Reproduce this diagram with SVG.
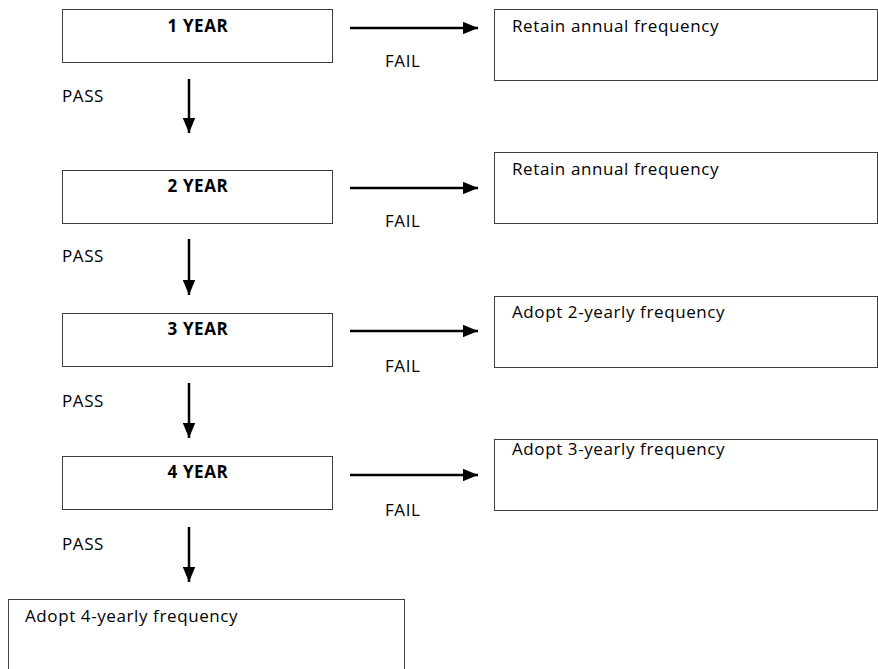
<svg xmlns="http://www.w3.org/2000/svg" width="878" height="669" viewBox="0 0 878 669">
<defs>
<marker id="ah" markerWidth="6" markerHeight="5" refX="6" refY="2.5" orient="auto" markerUnits="strokeWidth">
<path d="M0,0 L6,2.5 L0,5 Z" fill="#000"/>
</marker>
<style>
.box{fill:#fff;stroke:#404040;stroke-width:1}
.t{font-family:"Open Sans","Liberation Sans",Arial,sans-serif;font-size:17px;letter-spacing:0.6px;fill:#000}
.b{font-weight:bold;text-anchor:middle}
.c{stroke:#000;stroke-width:2.5;fill:none;marker-end:url(#ah)}
</style>
</defs>
<rect width="878" height="669" fill="#fff"/>
<g id="y1"><rect class="box" x="62.5" y="9.5" width="270" height="53"/><text class="t b" x="198" y="32">1 YEAR</text></g>
<g id="y2"><rect class="box" x="62.5" y="170.5" width="270" height="53"/><text class="t b" x="198" y="192">2 YEAR</text></g>
<g id="y3"><rect class="box" x="62.5" y="313.5" width="270" height="53"/><text class="t b" x="198" y="335">3 YEAR</text></g>
<g id="y4"><rect class="box" x="62.5" y="456.5" width="270" height="53"/><text class="t b" x="198" y="478">4 YEAR</text></g>
<g id="r1"><rect class="box" x="494.5" y="9.5" width="383" height="71"/><text class="t" x="512" y="32">Retain annual frequency</text></g>
<g id="r2"><rect class="box" x="494.5" y="152.5" width="383" height="71"/><text class="t" x="512" y="175">Retain annual frequency</text></g>
<g id="r3"><rect class="box" x="494.5" y="296.5" width="383" height="71"/><text class="t" x="512" y="318">Adopt 2-yearly frequency</text></g>
<g id="r4"><rect class="box" x="494.5" y="439.5" width="383" height="71"/><text class="t" x="512" y="455">Adopt 3-yearly frequency</text></g>
<g id="r5"><rect class="box" x="8.5" y="599.5" width="396" height="80"/><text class="t" x="25" y="622">Adopt 4-yearly frequency</text></g>
<g id="connectors">
<line class="c" x1="350" y1="28" x2="478" y2="28"/>
<line class="c" x1="350" y1="188" x2="478" y2="188"/>
<line class="c" x1="350" y1="331" x2="478" y2="331"/>
<line class="c" x1="350" y1="475" x2="478" y2="475"/>
<line class="c" x1="189" y1="79" x2="189" y2="133"/>
<line class="c" x1="189" y1="239" x2="189" y2="295"/>
<line class="c" x1="189" y1="383" x2="189" y2="438"/>
<line class="c" x1="189" y1="527" x2="189" y2="582"/>
<text class="t" x="385" y="67">FAIL</text>
<text class="t" x="385" y="227">FAIL</text>
<text class="t" x="385" y="372">FAIL</text>
<text class="t" x="385" y="516">FAIL</text>
<text class="t" x="62" y="102">PASS</text>
<text class="t" x="62" y="262">PASS</text>
<text class="t" x="62" y="407">PASS</text>
<text class="t" x="62" y="550">PASS</text>
</g>
</svg>
